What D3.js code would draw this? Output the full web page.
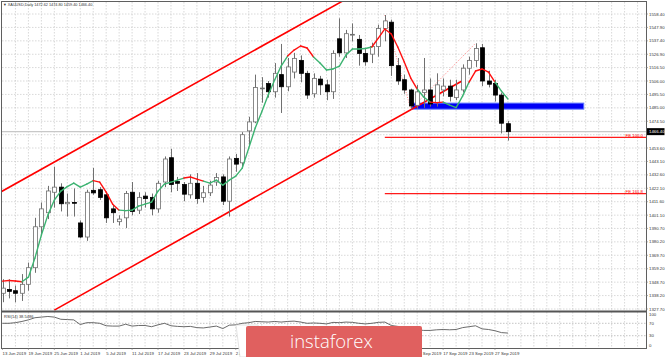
<!DOCTYPE html>
<html><head><meta charset="utf-8">
<script src="https://cdn.jsdelivr.net/npm/d3@7"></script>
<style>html,body{margin:0;padding:0;background:#fff;overflow:hidden}svg{display:block}</style>
</head><body>
<svg id="c" width="665" height="357"></svg>
<script>
// ---------- DATA ----------
const dates = ["13 Jun 2019","14 Jun 2019","17 Jun 2019","18 Jun 2019","19 Jun 2019","20 Jun 2019","21 Jun 2019","24 Jun 2019","25 Jun 2019","26 Jun 2019","27 Jun 2019","28 Jun 2019",
"1 Jul 2019","2 Jul 2019","3 Jul 2019","4 Jul 2019","5 Jul 2019","8 Jul 2019","9 Jul 2019","10 Jul 2019","11 Jul 2019","12 Jul 2019","15 Jul 2019","16 Jul 2019","17 Jul 2019","18 Jul 2019","19 Jul 2019","22 Jul 2019","23 Jul 2019","24 Jul 2019","25 Jul 2019","26 Jul 2019","29 Jul 2019","30 Jul 2019","31 Jul 2019",
"1 Aug 2019","2 Aug 2019","5 Aug 2019","6 Aug 2019","7 Aug 2019","8 Aug 2019","9 Aug 2019","12 Aug 2019","13 Aug 2019","14 Aug 2019","15 Aug 2019","16 Aug 2019","19 Aug 2019","20 Aug 2019","21 Aug 2019","22 Aug 2019","23 Aug 2019","26 Aug 2019","27 Aug 2019","28 Aug 2019","29 Aug 2019","30 Aug 2019",
"2 Sep 2019","3 Sep 2019","4 Sep 2019","5 Sep 2019","6 Sep 2019","9 Sep 2019","10 Sep 2019","11 Sep 2019","12 Sep 2019","13 Sep 2019","16 Sep 2019","17 Sep 2019","18 Sep 2019","19 Sep 2019","20 Sep 2019","23 Sep 2019","24 Sep 2019","25 Sep 2019","26 Sep 2019","27 Sep 2019","30 Sep 2019","1 Oct 2019"];

const open  = [1340,1343,1342,1340,1347,1360,1392,1403,1419,1423,1410,1411,1395,1384,1420.5,1421,1417,1406,1396,1399,1419,1405,1416,1415,1406,1427,1446,1427.5,1425,1417,1426,1415,1418.6,1427,1431,1412,1445.5,1442,1467,1474,1500,1504,1497.6,1511,1501.5,1513,1522,1512,1496,1507.5,1503,1497.6,1539,1528,1542,1538.6,1527.6,1527,1533,1547,1552,1518,1507,1499,1487,1497,1499,1489,1499,1502,1493,1499,1516,1522,1532,1506,1504,1495,1472.62];
const high  = [1351,1351,1346,1355,1364,1399,1411,1424,1439,1426,1418,1422,1397,1421,1438,1423,1419,1409,1401,1420,1427,1419,1419,1418,1428,1447,1453,1431,1427,1433,1434,1424,1428,1434,1433,1447,1449,1466,1478,1511,1509,1506,1520,1535,1524,1528,1526,1514,1512,1510,1507,1530,1555,1546,1551,1542,1531,1536,1550,1557.6,1554,1524,1511,1500,1503,1524,1508,1512,1508,1507,1507,1519,1525,1535.5,1535,1514,1507,1497,1474.80];
const low   = [1333,1336,1333,1334,1342,1356,1386,1398,1407,1404,1400,1400,1383,1381,1417,1413,1395,1395,1393,1391,1401,1402,1407,1401,1403,1423,1419,1420,1412,1414,1410,1411,1416,1424,1409,1400,1435,1438,1456,1473,1489,1493,1493,1481,1498,1508,1505,1492,1493,1495,1491,1492,1525,1524,1537,1518,1518,1520,1525,1537,1510,1503,1496,1484,1484,1485,1486,1486,1494,1490,1491,1497,1511,1517,1502,1501,1490,1465,1459.40];
const close = [1344,1341.5,1340,1347,1360,1392,1406,1420,1423,1410,1411,1410.5,1384,1419,1418.5,1415,1399,1403,1398,1418,1404,1415,1414,1406,1426,1445,1425,1426,1417.5,1426,1414,1418.6,1424.6,1430.6,1412,1445,1441,1464,1474,1501,1500.5,1497.6,1512,1501.5,1517,1523.7,1512,1495,1508,1503,1497.6,1527.6,1528,1543,1542.5,1527.6,1521,1533,1547,1553,1518,1506,1499,1486.5,1497.5,1499,1488,1503,1502,1494,1499,1516,1522,1531.5,1506,1503.5,1495,1473,1466.40];

// coloured moving average (u = rising / green, d = falling / red)
const maValues = [1349.5,1350.0,1349.6,1349.0,1352.6,1367.5,1385.5,1401.1,1412.9,1419.9,1423.4,1426.2,1423.0,1425.4,1428.1,1426.9,1419.1,1409.7,1405.0,1404.6,1405.0,1408.2,1409.7,1411.3,1419.9,1425.4,1426.9,1428.5,1430.1,1430.9,1429.3,1427.7,1426.2,1428.5,1424.6,1428.5,1431.6,1437.9,1453.5,1469.2,1481.7,1495.0,1506.8,1517.7,1525.5,1530.2,1533.4,1531.8,1524.8,1520.1,1514.6,1515.4,1517.7,1526.3,1531.0,1531.0,1531.4,1532.6,1539.6,1546.7,1542.8,1532.6,1520.8,1508.3,1499.7,1493.5,1489.5,1489.1,1489.5,1487.2,1485.2,1494.2,1505.2,1513.8,1515.4,1513.0,1505.2,1498.1,1491.9];
const maTrend = "udddu uuuu uuuu uudd ddu uuuu uuuu uddd uuuu uuuu uuuu uddd duuu uuuu uudd dddd duud duuu udddd".replace(/ /g,"").split("");

const rsiValues = [70,70,72,76,81,88,90,92,90,83,82,81,66,72,72,70,62,61,61,67,61,63,63,59,65,70,62,60,59,60,56,55,58,61,53,64,65,70,72,76,75,74,76,74,76,77,74,70,71,70,68,73,72,74,73,70,68,70,73,74,63,60,58,50,49,47,47,49,50,49,50,56,59,62,52,50,46,40,38.55];

const priceTicks = [1558.40,1547.90,1537.40,1526.90,1516.50,1506.00,1495.50,1485.00,1474.50,1464.00,1453.60,1443.10,1432.60,1422.10,1411.60,1401.10,1390.70,1380.20,1369.70,1359.20,1348.70,1338.20,1327.70];
const rsiTicks = [100,70,30,0];
const rsiLevels = [70,30];
const dateTickBars = [0,4,8,12,16,20,24,28,32,36,40,44,48,52,56,60,64,68,72,76];

const lowerChannel = [{bar:8, price:1326.8},{bar:70.9, price:1506.0}];
const upperChannel = [{bar:-0.5, price:1418.6},{bar:53, price:1570.0}];
const fePoints = [{bar:59, price:1557.6},{bar:63, price:1484.0},{bar:73, price:1535.5}];
const feLevels = [{label:"FE 100.0", price:1461.9},{label:"FE 161.8", price:1418.0}];
const zoneBars = [63.2, 89.7];
const zonePrices = [1484.0, 1488.7];
const lastPrice = 1466.40;
const titleText = "XAUUSD,Daily  1472.62 1474.80 1459.40 1466.40";
const rsiText = "RSI(14) 38.5486";
const logoText = "instaforex";

// ---------- LAYOUT ----------
const L = 2, R = 646, T = 2, MB = 311, RT = 312, RB = 348;
const LOGO = {x0: 246, x1: 422, y0: 326};
const FONT = "'Liberation Sans', Arial, sans-serif";
const svg = d3.select("#c");
const x = d3.scaleLinear().domain([0, 98]).range([2.5, 2.5 + 6.48 * 98]);
const y = d3.scaleLinear().domain([priceTicks[priceTicks.length-1], priceTicks[0]]).range([309, 14]);
const yr = d3.scaleLinear().domain([0, 100]).range([345, 314]);

const defs = svg.append("defs");
defs.append("clipPath").attr("id","mainClip").append("rect").attr("x",L).attr("y",T).attr("width",R-L).attr("height",MB-T);
defs.append("clipPath").attr("id","rsiClip").append("rect").attr("x",L).attr("y",RT).attr("width",R-L).attr("height",RB-RT);

// grid
const grid = svg.append("g").attr("stroke","#c9c9c9").attr("stroke-width",0.7).attr("stroke-dasharray","1.5,1.5");
priceTicks.forEach(p => grid.append("line").attr("x1",L).attr("x2",R).attr("y1",y(p)).attr("y2",y(p)));
for (let b = 2; x(b) < R; b += 2) {
  grid.append("line").attr("x1",x(b)).attr("x2",x(b)).attr("y1",T).attr("y2",MB);
  grid.append("line").attr("x1",x(b)).attr("x2",x(b)).attr("y1",RT).attr("y2",RB);
}
rsiLevels.forEach(v => grid.append("line").attr("x1",L).attr("x2",R).attr("y1",yr(v)).attr("y2",yr(v)).attr("stroke","#aaa"));

const main = svg.append("g").attr("clip-path","url(#mainClip)");

// bid line
main.append("line").attr("x1",L).attr("x2",R).attr("y1",y(lastPrice)).attr("y2",y(lastPrice)).attr("stroke","#c8c8c8").attr("stroke-width",1.2);

// support zone
main.append("rect").attr("x",x(zoneBars[0])).attr("width",x(zoneBars[1])-x(zoneBars[0]))
  .attr("y",y(zonePrices[1])).attr("height",y(zonePrices[0])-y(zonePrices[1]))
  .attr("fill","#0000f5").attr("stroke","#5b74ff").attr("stroke-width",1);

// FE levels
feLevels.forEach(f => {
  main.append("line").attr("x1",x(fePoints[0].bar)).attr("x2",R).attr("y1",y(f.price)).attr("y2",y(f.price))
    .attr("stroke","#ff1a1a").attr("stroke-width",1.2);
  svg.append("text").attr("x",R-3).attr("y",y(f.price)-0.6).attr("text-anchor","end")
    .attr("font-family",FONT).attr("font-size",4.3).attr("fill","#ff0000").text(f.label);
});
// FE dotted construction line
main.append("path").attr("d", d3.line().x(d=>x(d.bar)).y(d=>y(d.price))(fePoints))
  .attr("fill","none").attr("stroke","#ff5050").attr("stroke-width",0.7).attr("stroke-dasharray","1,1.5");

// channel
[lowerChannel, upperChannel].forEach(c => {
  main.append("path").attr("d", d3.line().x(d=>x(d.bar)).y(d=>y(d.price))(c))
    .attr("fill","none").attr("stroke","#ff0000").attr("stroke-width",1.6);
});

// candles
const candles = dates.map((d,i) => ({i, o:open[i], h:high[i], l:low[i], c:close[i]}));
const cg = main.append("g");
candles.forEach(k => {
  const cx = Math.round(x(k.i)) + 0.5;
  cg.append("line").attr("x1",cx).attr("x2",cx).attr("y1",y(k.h)).attr("y2",y(k.l)).attr("stroke","#707070").attr("stroke-width",1);
  const top = y(Math.max(k.o,k.c)), bot = y(Math.min(k.o,k.c));
  const bull = k.c >= k.o;
  cg.append("rect").attr("x",cx-2).attr("width",4).attr("y",top).attr("height",Math.max(0.8,bot-top))
    .attr("fill", bull ? "#ffffff" : "#000000").attr("stroke", bull ? "#6e6e6e" : "#000").attr("stroke-width",0.8);
});

// coloured MA
for (let i = 1; i < maValues.length; i++) {
  main.append("line").attr("x1",x(i-1)).attr("y1",y(maValues[i-1])).attr("x2",x(i)).attr("y2",y(maValues[i]))
    .attr("stroke", maTrend[i] === "d" ? "#ff1010" : "#3cb371").attr("stroke-width",1.4).attr("stroke-linecap","round");
}

// RSI
svg.append("g").attr("clip-path","url(#rsiClip)").append("path")
  .attr("d", d3.line().x((d,i)=>x(i)).y(d=>yr(d))(rsiValues))
  .attr("fill","none").attr("stroke","#5a5a5a").attr("stroke-width",0.9);

// frame
const fr = svg.append("g").attr("fill","none").attr("stroke","#5f5f5f");
fr.append("rect").attr("x",L-0.5).attr("y",T-0.5).attr("width",R-L+1).attr("height",RB-T+1).attr("stroke-width",1);
fr.append("line").attr("x1",L).attr("x2",R).attr("y1",MB+0.5).attr("y2",MB+0.5).attr("stroke-width",1.8).attr("stroke","#555");

// price axis
const ax = svg.append("g").attr("font-family",FONT).attr("font-size",4.3).attr("fill","#333");
priceTicks.forEach(p => {
  if (Math.abs(y(p) - y(lastPrice)) < 7) return;
  ax.append("line").attr("x1",R).attr("x2",R+2).attr("y1",y(p)).attr("y2",y(p)).attr("stroke","#777").attr("stroke-width",0.6);
  ax.append("text").attr("x",R+3).attr("y",y(p)+1.5).text(p.toFixed(2));
});
ax.append("rect").attr("x",R+1).attr("y",y(lastPrice)-3.5).attr("width",17.5).attr("height",7).attr("fill","#000");
ax.append("text").attr("x",R+3).attr("y",y(lastPrice)+1.5).attr("fill","#fff").text(lastPrice.toFixed(2));
rsiTicks.forEach(v => ax.append("text").attr("x",R+3).attr("y",yr(v)+1.5).text(v));

// date axis (labels lying fully beneath the watermark are hidden, as in the reference)
dateTickBars.forEach(b => {
  ax.append("line").attr("x1",x(b)).attr("x2",x(b)).attr("y1",RB).attr("y2",RB+2).attr("stroke","#777").attr("stroke-width",0.6);
  const xs = x(b), xe = xs + 20;
  if (xs >= LOGO.x0 && xe <= LOGO.x1) return;
  ax.append("text").attr("x",xs).attr("y",354.5).text(dates[b]);
});

// titles
ax.append("text").attr("x",3).attr("y",6.3).attr("font-size",3.8).text("\u25BC " + titleText);
ax.append("text").attr("x",4).attr("y",317.5).attr("font-size",4).text(rsiText);

// watermark
const wm = svg.append("g");
wm.append("path").attr("d","M236,325 L258,325 L264,357 L240,357 Z").attr("fill","#ffffff").attr("stroke","#dcdcdc").attr("stroke-width",0.8);
wm.append("rect").attr("x",LOGO.x0).attr("y",LOGO.y0).attr("width",LOGO.x1-LOGO.x0).attr("height",34).attr("rx",2).attr("fill","#e0605f");
wm.append("text").attr("x",290).attr("y",347.5).attr("font-family","'Open Sans', Lato, sans-serif").attr("font-weight",300)
  .attr("font-size",18.5).attr("fill","#fff").text(logoText);
</script>
</body></html>
